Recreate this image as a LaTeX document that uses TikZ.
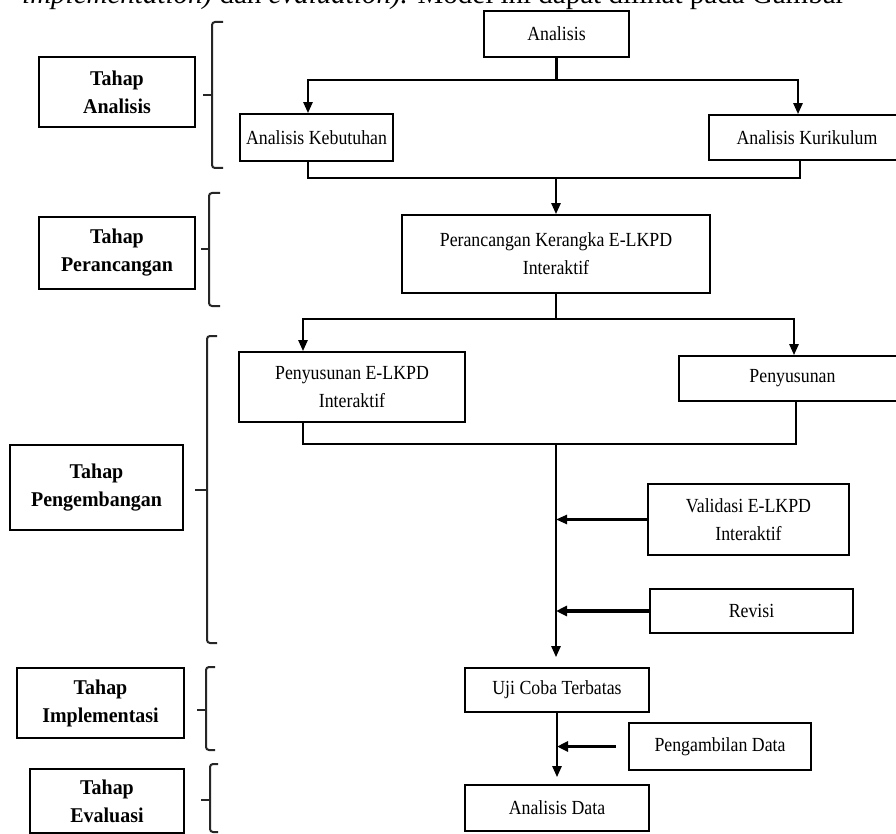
\documentclass[tikz,border=0pt]{standalone}
\usepackage{fontspec}
\setmainfont{Liberation Serif}
\newfontfamily\diagfont[FakeStretch=0.89]{Liberation Serif}
\newfontfamily\phasefont[FakeStretch=0.95]{Liberation Serif}
\usetikzlibrary{arrows.meta}
\tikzset{
  box/.style={draw=black, line width=1.7pt, inner sep=0pt, align=center,
    font=\diagfont\fontsize{20}{28}\selectfont},
  phase/.style={box, font=\phasefont\fontsize{21}{28}\selectfont\bfseries},
  conn/.style={line width=2.4pt, line cap=rect},
  arr/.style={conn, -{Triangle[length=11pt,width=9pt]}},
  thickarr/.style={line width=3.6pt, -{Triangle[length=11pt,width=10pt]}},
  brace/.style={draw=black!85, line width=2pt, rounded corners=3pt},
}
\begin{document}
\begin{tikzpicture}[x=1pt,y=-1pt]
\useasboundingbox (0,0) rectangle (896,834);
\clip (0,0) rectangle (896,834);
\fill[white] (0,0) rectangle (896,834);

% cut-off line of running text at the top
\node[anchor=base west, inner sep=0pt, font=\fontsize{29}{30}\selectfont] (topline) at (22,4)
  {\textit{implementation)} dan \textit{evaluation).} Model ini dapat dilihat pada Gambar};

% main flow boxes
\node[box, minimum width=145, minimum height=46] (A) at (556.5,34) {Analisis};
\node[box, minimum width=153, minimum height=47] (K1) at (316.5,137.5) {Analisis Kebutuhan};
\node[box, minimum width=196, minimum height=45] (K2) at (807,137.5) {Analisis Kurikulum};
\node[box, minimum width=308, minimum height=78] (P) at (556,254) {Perancangan Kerangka E-LKPD\\Interaktif};
\node[box, minimum width=226, minimum height=70] (S1) at (352,387) {Penyusunan E-LKPD\\Interaktif};
\node[box, minimum width=227, minimum height=45] (S2) at (792.5,378.5) {Penyusunan};
\node[box, minimum width=201, minimum height=71] (V) at (748.5,519.5) {Validasi E-LKPD\\Interaktif};
\node[box, minimum width=203, minimum height=44] (R) at (751.5,611) {Revisi};
\node[box, minimum width=184, minimum height=44] (U) at (557,690) {Uji Coba Terbatas};
\node[box, minimum width=182, minimum height=47] (PD) at (720,746.5) {Pengambilan Data};
\node[box, minimum width=184, minimum height=46] (AD) at (557,808) {Analisis Data};

% phase boxes
\node[phase, minimum width=156, minimum height=70] (TA) at (117,92) {Tahap\\Analisis};
\node[phase, minimum width=156, minimum height=72] (TP) at (117,253) {Tahap\\Perancangan};
\node[phase, minimum width=173, minimum height=85] (TG) at (96.5,487.5) {Tahap\\Pengembangan};
\node[phase, minimum width=167, minimum height=70] (TI) at (100.5,703) {Tahap\\Implementasi};
\node[phase, minimum width=154, minimum height=64] (TE) at (107,801) {Tahap\\Evaluasi};

% junction coordinates
\coordinate (a1) at (556.5,80);
\coordinate (a1l) at (308,80);
\coordinate (a1r) at (798,80);
\coordinate (m1l) at (308,178);
\coordinate (m1r) at (800,178);
\coordinate (m1) at (556,178);
\coordinate (p1) at (556,319);
\coordinate (p1l) at (303,319);
\coordinate (p1r) at (794,319);
\coordinate (m2l) at (303,444);
\coordinate (m2r) at (796,444);
\coordinate (m2) at (556,444);

% connectors
\draw[conn] (A.south) -- (a1);
\draw[conn] (a1l) -- (a1r);
\draw[arr] (a1l) -- (a1l |- K1.north);
\draw[arr] (a1r) -- (a1r |- K2.north);
\draw[conn] (m1l |- K1.south) -- (m1l) -- (m1r) -- (m1r |- K2.south);
\draw[arr] (m1) -- (P.north);
\draw[conn] (P.south) -- (p1);
\draw[conn] (p1l) -- (p1r);
\draw[arr] (p1l) -- (p1l |- S1.north);
\draw[arr] (p1r) -- (p1r |- S2.north);
\draw[conn] (m2l |- S1.south) -- (m2l) -- (m2r) -- (m2r |- S2.south);
\draw[arr, shorten >=10pt] (m2) -- (m2 |- U.north);
\draw[arr] (V.west) -- (m2 |- V.west);
\draw[thickarr] (R.west) -- (m2 |- R.west);
\draw[arr, shorten >=7pt] (U.south) -- (AD.north);
\draw[thickarr, shorten <=12pt] (PD.west) -- (U.south |- PD.west);

% braces
\draw[brace] (223,22) -- (212,22) -- (212,168) -- (223,168);
\draw[brace, rounded corners=0pt] (212,95) -- (203,95);
\draw[brace] (220,193) -- (209,193) -- (209,306) -- (220,306);
\draw[brace, rounded corners=0pt] (209,249) -- (201,249);
\draw[brace] (217,336) -- (207,336) -- (207,643) -- (217,643);
\draw[brace, rounded corners=0pt] (207,490) -- (195,490);
\draw[brace] (215,667) -- (206,667) -- (206,750) -- (215,750);
\draw[brace, rounded corners=0pt] (206,710) -- (197,710);
\draw[brace] (218,764) -- (210,764) -- (210,832) -- (218,832);
\draw[brace, rounded corners=0pt] (210,800) -- (201,800);
\end{tikzpicture}
\end{document}
